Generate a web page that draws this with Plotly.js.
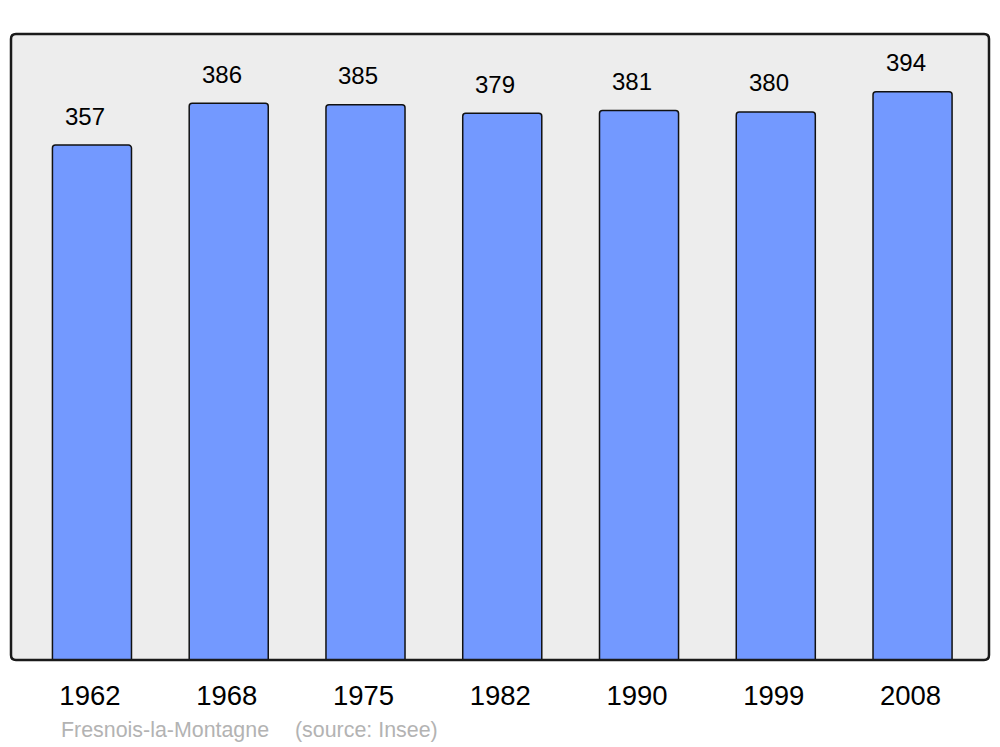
<!DOCTYPE html>
<html>
<head>
<meta charset="utf-8">
<script src="https://cdn.plot.ly/plotly-3.0.1.min.js"></script>
<style>html,body{margin:0;padding:0;background:#fff;}#chart{width:1000px;height:747px;}</style>
</head>
<body>
<div id="chart"></div>
<script>
const years = ["1962", "1968", "1975", "1982", "1990", "1999", "2008"];
const population = [357, 386, 385, 379, 381, 380, 394];
const townName = "Fresnois-la-Montagne";
const sourceText = "(source: Insee)";

const W = 978, H = 626;
const rx = 5 / W, ry = 5 / H;
const borderPath = `M ${rx},0 L ${1-rx},0 Q 1,0 1,${ry} L 1,${1-ry} Q 1,1 ${1-rx},1 L ${rx},1 Q 0,1 0,${1-ry} L 0,${ry} Q 0,0 ${rx},0 Z`;

const trace = {
  type: 'bar',
  x: years,
  y: population,
  width: 0.578,
  marker: {color: '#7399ff', line: {color: '#111', width: 1.5}, cornerradius: 3},
  hoverinfo: 'none'
};

const annotations = years.map((yr, i) => ({
  x: i, y: population[i], xref: 'x', yref: 'y',
  text: String(population[i]), showarrow: false,
  xanchor: 'center', yanchor: 'middle', xshift: -7, yshift: 29,
  font: {family: 'Liberation Sans, Arial, sans-serif', size: 24, color: '#000'}
}));
annotations.push({
  xref: 'paper', yref: 'paper', x: (61 - 11) / W, y: -(730 - 660) / H,
  xanchor: 'left', yanchor: 'middle', xshift: -2, text: townName, showarrow: false,
  font: {family: 'Liberation Sans, Arial, sans-serif', size: 21.4, color: '#b3b3b3'}
});
annotations.push({
  xref: 'paper', yref: 'paper', x: (295 - 11) / W, y: -(730 - 660) / H,
  xanchor: 'left', yanchor: 'middle', xshift: -2, text: sourceText, showarrow: false,
  font: {family: 'Liberation Sans, Arial, sans-serif', size: 21.4, color: '#b3b3b3'}
});

const layout = {
  width: 1000, height: 747,
  margin: {l: 11, r: 11, t: 34, b: 87, pad: 0},
  paper_bgcolor: '#ffffff',
  plot_bgcolor: '#ededed',
  showlegend: false,
  xaxis: {
    type: 'category', range: [-0.592, 6.559],
    showgrid: false, zeroline: false, showline: false, ticks: '',
    ticklabelstandoff: 16, ticklabelshift: -2,
    tickfont: {family: 'Liberation Sans, Arial, sans-serif', size: 27.5, color: '#000'},
    fixedrange: true
  },
  yaxis: {
    range: [0, 434], showgrid: false, zeroline: false, showline: false,
    showticklabels: false, ticks: '', fixedrange: true
  },
  shapes: [{
    type: 'path', xref: 'paper', yref: 'paper', path: borderPath,
    line: {color: '#1a1a1a', width: 2.5}, layer: 'above'
  }],
  annotations: annotations
};

Plotly.newPlot('chart', [trace], layout, {staticPlot: true, displayModeBar: false});
</script>
</body>
</html>
